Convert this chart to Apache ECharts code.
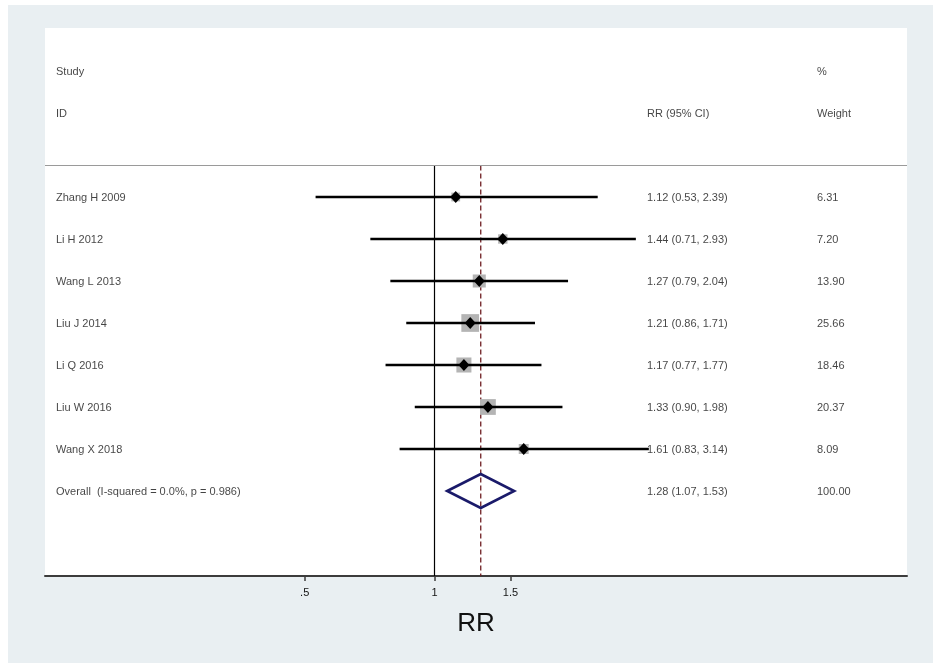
<!DOCTYPE html>
<html>
<head>
<meta charset="utf-8">
<script src="https://cdn.jsdelivr.net/npm/echarts@6/dist/echarts.min.js"></script>
<style>
html,body{margin:0;padding:0;background:#ffffff;width:941px;height:667px;overflow:hidden;}
#chart{position:absolute;left:8px;top:5px;width:925px;height:658px;}
</style>
</head>
<body>
<div id="chart"></div>
<script>
// ---- data ----
const studies = ['Zhang H 2009','Li H 2012','Wang L 2013','Liu J 2014','Li Q 2016','Liu W 2016','Wang X 2018'];
const rr      = [1.12, 1.44, 1.27, 1.21, 1.17, 1.33, 1.61];
const ciLow   = [0.53, 0.71, 0.79, 0.86, 0.77, 0.90, 0.83];
const ciHigh  = [2.39, 2.93, 2.04, 1.71, 1.77, 1.98, 3.14];
const weights = [6.31, 7.20, 13.90, 25.66, 18.46, 20.37, 8.09];
const overallLabel = 'Overall  (I-squared = 0.0%, p = 0.986)';
const overallRR = 1.28, overallLow = 1.07, overallHigh = 1.53, overallWeight = 100.00;
const nullValue = 1;
const xTicks = [0.5, 1, 1.5];
const xTickLabels = ['.5', '1', '1.5'];
const headerStudy = ['Study', 'ID'];
const headerRR = 'RR (95% CI)';
const headerWeight = ['%', 'Weight'];

// ---- layout ----
const rows = studies.map((_, i) => i);
const overallRow = studies.length;
const headerRows = [-3, -2];
const sepRow = -0.75;
const yMin = -4.024, yMax = 9.024;
const colStudy = 11, colRR = 602, colWeight = 772;
const FONT = 'Liberation Sans, Arial, Helvetica, sans-serif';
const textColor = '#141414';
const fmt = v => v.toFixed(2);

const textItems = [];
headerRows.forEach((r, k) => {
  textItems.push({value: [colStudy, r], t: headerStudy[k]});
  textItems.push({value: [colWeight, r], t: headerWeight[k]});
});
textItems.push({value: [colRR, headerRows[1]], t: headerRR});
rows.forEach(i => {
  textItems.push({value: [colStudy, i], t: studies[i]});
  textItems.push({value: [colRR, i], t: `${fmt(rr[i])} (${fmt(ciLow[i])}, ${fmt(ciHigh[i])})`});
  textItems.push({value: [colWeight, i], t: fmt(weights[i])});
});
textItems.push({value: [colStudy, overallRow], t: overallLabel});
textItems.push({value: [colRR, overallRow], t: `${fmt(overallRR)} (${fmt(overallLow)}, ${fmt(overallHigh)})`});
textItems.push({value: [colWeight, overallRow], t: fmt(overallWeight)});

const chart = echarts.init(document.getElementById('chart'));
chart.setOption({
  backgroundColor: '#e9eff2',
  animation: false,
  grid: {left: 37, right: 26, top: 23, bottom: 87, show: true, backgroundColor: '#ffffff', borderWidth: 0},
  xAxis: [{
    type: 'log', min: 0.125, max: 12.46, logBase: 10,
    axisLine: {show: true, onZero: false, lineStyle: {color: '#3c3c3c', width: 2}},
    axisTick: {show: true, customValues: xTicks, length: 5, inside: false, lineStyle: {color: '#3c3c3c', width: 1.5}},
    axisLabel: {show: true, customValues: xTicks, margin: 11, fontSize: 11, fontFamily: FONT, color: textColor,
      formatter: v => { const k = xTicks.findIndex(t => Math.abs(t - v) < 1e-9); return k >= 0 ? xTickLabels[k] : ''; }},
    minorTick: {show: false}, splitLine: {show: false}, minorSplitLine: {show: false},
    name: 'RR', nameLocation: 'middle', nameGap: 35,
    nameTextStyle: {fontSize: 26, fontFamily: FONT, color: '#111'}
  }, {
    type: 'value', min: 0, max: 862, show: false
  }],
  yAxis: [{
    type: 'value', inverse: true, min: yMin, max: yMax, show: false
  }],
  series: [
    { // separator + reference lines
      type: 'line', xAxisIndex: 0, data: [[nullValue, sepRow], [nullValue, yMax]],
      symbol: 'none', lineStyle: {color: '#000', width: 1.2}, z: 2,
      markLine: {silent: true, symbol: 'none', label: {show: false},
        lineStyle: {color: '#9a9a9a', width: 1.2, type: 'solid'}, data: [{yAxis: sepRow}]}
    },
    {
      type: 'line', xAxisIndex: 0, data: [[overallRR, sepRow], [overallRR, yMax]],
      symbol: 'none', lineStyle: {color: '#6e1e22', width: 1.3, type: [5, 3]}, z: 2
    },
    { // weight boxes
      type: 'scatter', xAxisIndex: 0, symbol: 'rect',
      data: rows.map(i => [rr[i], i, weights[i]]),
      symbolSize: d => Math.sqrt(d[2]) * 3.5,
      itemStyle: {color: '#b4b4b4', opacity: 1}, z: 3
    },
    { // CI lines
      type: 'custom', xAxisIndex: 0,
      data: rows.map(i => [ciLow[i], ciHigh[i], i]),
      encode: {x: [0, 1], y: 2},
      renderItem: (params, api) => {
        const p1 = api.coord([api.value(0), api.value(2)]);
        const p2 = api.coord([api.value(1), api.value(2)]);
        return {type: 'line', shape: {x1: p1[0], y1: p1[1], x2: p2[0], y2: p2[1]},
          style: {stroke: '#000', lineWidth: 2.5}};
      }, z: 4
    },
    { // point estimates
      type: 'scatter', xAxisIndex: 0, symbol: 'diamond', symbolSize: [11, 12],
      data: rows.map(i => [rr[i], i]),
      itemStyle: {color: '#000', opacity: 1}, z: 5
    },
    { // overall diamond
      type: 'custom', xAxisIndex: 0,
      data: [[overallLow, overallRR, overallHigh, overallRow]],
      encode: {x: [0, 2], y: 3},
      renderItem: (params, api) => {
        const r = api.value(3);
        const a = api.coord([api.value(0), r]);
        const c = api.coord([api.value(2), r]);
        const t = api.coord([api.value(1), r - 0.405]);
        const b = api.coord([api.value(1), r + 0.405]);
        return {type: 'polygon', shape: {points: [a, t, c, b]},
          style: {fill: 'none', stroke: '#1a1a6a', lineWidth: 2.6}};
      }, z: 5
    },
    { // text table
      type: 'scatter', xAxisIndex: 1, symbolSize: 0, silent: true,
      data: textItems,
      label: {show: true, position: 'right', distance: 0, offset: [0, 1], fontSize: 11, fontFamily: FONT, color: textColor,
        formatter: p => p.data.t},
      z: 6
    }
  ]
});
</script>
</body>
</html>
